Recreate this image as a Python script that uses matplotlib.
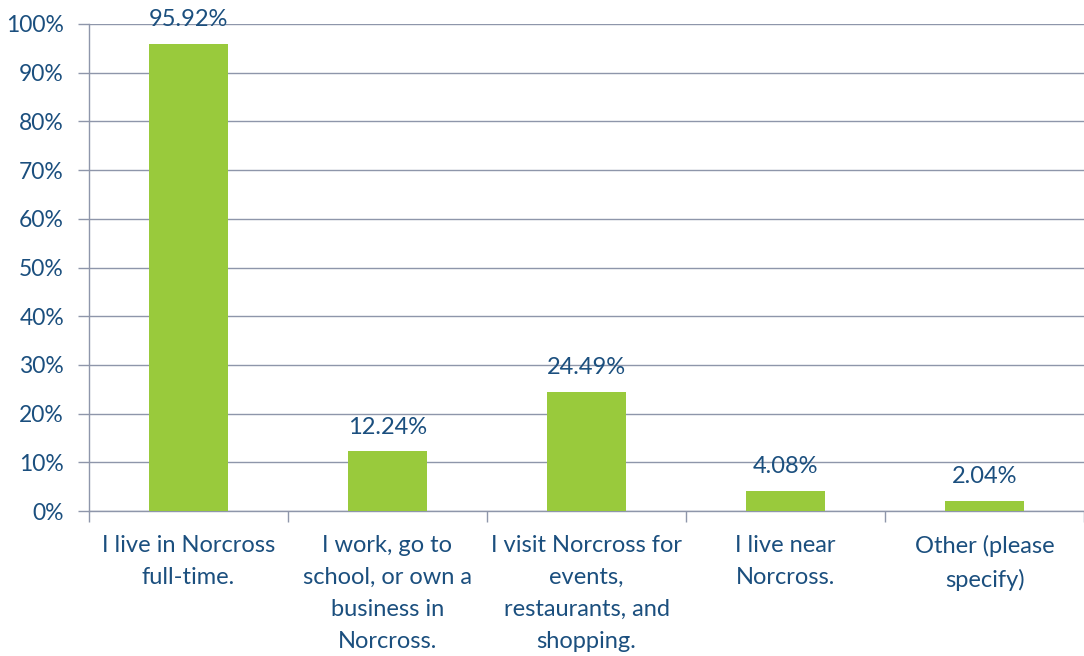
import matplotlib
matplotlib.use("Agg")
import matplotlib.pyplot as plt
from matplotlib.ticker import FixedLocator, PercentFormatter

plt.rcParams['font.family'] = ['Lato', 'DejaVu Sans']

categories = [
    "I live in Norcross\nfull-time.",
    "I work, go to\nschool, or own a\nbusiness in\nNorcross.",
    "I visit Norcross for\nevents,\nrestaurants, and\nshopping.",
    "I live near\nNorcross.",
    "Other (please\nspecify)",
]
values = [95.92, 12.24, 24.49, 4.08, 2.04]

text_color = "#1B4F7E"
bar_color = "#99CA3C"
grid_color = "#8E96AA"

fig = plt.figure(figsize=(10.84, 6.56), dpi=100)
ax = fig.add_axes([89 / 1084, 145 / 656, 995 / 1084, 487 / 656])

x = list(range(len(values)))
bars = ax.bar(x, values, width=0.4, color=bar_color, zorder=3)

for rect, v in zip(bars, values):
    ax.annotate(f"{v:.2f}%", (rect.get_x() + rect.get_width() / 2, v),
                xytext=(0, 10), textcoords="offset points",
                ha="center", va="bottom", fontsize=17, color=text_color)

ax.set_xlim(-0.5, len(values) - 0.5)
ax.set_ylim(0, 100)
ax.set_yticks(range(0, 101, 10))
ax.yaxis.set_major_formatter(PercentFormatter(decimals=0))
ax.yaxis.grid(True, color=grid_color, linewidth=1, zorder=0)

# category labels centred under bars, tick marks between categories
ax.set_xticks(x)
ax.set_xticklabels(categories, fontsize=17, color=text_color, linespacing=1.65)
ax.tick_params(axis="x", which="major", length=0, pad=17)
ax.xaxis.set_minor_locator(FixedLocator([i - 0.5 for i in range(len(values) + 1)]))
ax.tick_params(axis="x", which="minor", length=8, width=1, color=grid_color)
ax.tick_params(axis="y", length=8, width=1, color=grid_color,
               labelsize=16.5, labelcolor=text_color, pad=10)

for side in ["top", "right"]:
    ax.spines[side].set_visible(False)
for side in ["left", "bottom"]:
    ax.spines[side].set_color(grid_color)
    ax.spines[side].set_linewidth(1)

fig.savefig("out.png", dpi=100)
